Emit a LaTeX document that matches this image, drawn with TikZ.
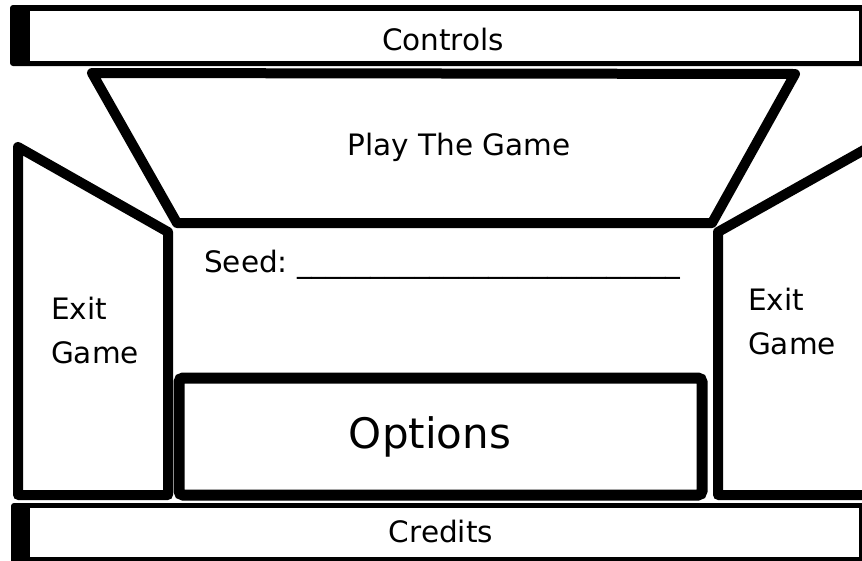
\documentclass[tikz,border=0pt]{standalone}
\usepackage{fontspec}
\setmainfont{DejaVu Sans}
\begin{document}
\begin{tikzpicture}[x=1pt,y=-1pt,
  panel/.style={draw=black,line width=10pt,line join=round,fill=white},
  lbl/.style={font=\fontsize{29.5}{44}\selectfont,inner sep=0pt},
  biglbl/.style={font=\fontsize{42}{50}\selectfont,inner sep=0pt}]
\useasboundingbox (0,0) rectangle (862,560);
\clip (0,0) rectangle (862,560);
% Controls bar
\fill[black,rounded corners=3pt] (10,5) rectangle (866,66);
\fill[white] (30,11) rectangle (859,61);
\node[lbl] (controls) at (443,39) {Controls};
% Play the game trapezoid
\draw[panel] (92,73) -- (795,74) -- (712,223) -- (177,223) -- cycle;
\node[lbl] (play) at (459,147) {Play The Game};
% Left exit panel
\draw[panel] (18,147) -- (168,232) -- (168,495) -- (18,495) -- cycle;
\node[lbl,align=left] (exitl) at (95,330) {Exit\\Game};
% Right exit panel
\draw[panel] (880,141) -- (718,232) -- (718,495) -- (880,495);
\node[lbl,align=left] (exitr) at (792,321) {Exit\\Game};
% Seed
\node[lbl,anchor=base west] (seed) at (204,272) {Seed:~\_\_\_\_\_\_\_\_\_\_\_\_\_\_\_\_\_\_\_\_\_\_\_\_\_\_};
% Options
\draw[draw=black,line width=11pt,rounded corners=4pt,fill=white] (179,378) rectangle (702,495);
\node[biglbl] (options) at (430,437) {Options};
% Credits bar
\fill[black,rounded corners=3pt] (11,503) rectangle (866,566);
\fill[white] (30,508) rectangle (859,557);
\node[lbl] (credits) at (441,531) {Credits};
\end{tikzpicture}
\end{document}
